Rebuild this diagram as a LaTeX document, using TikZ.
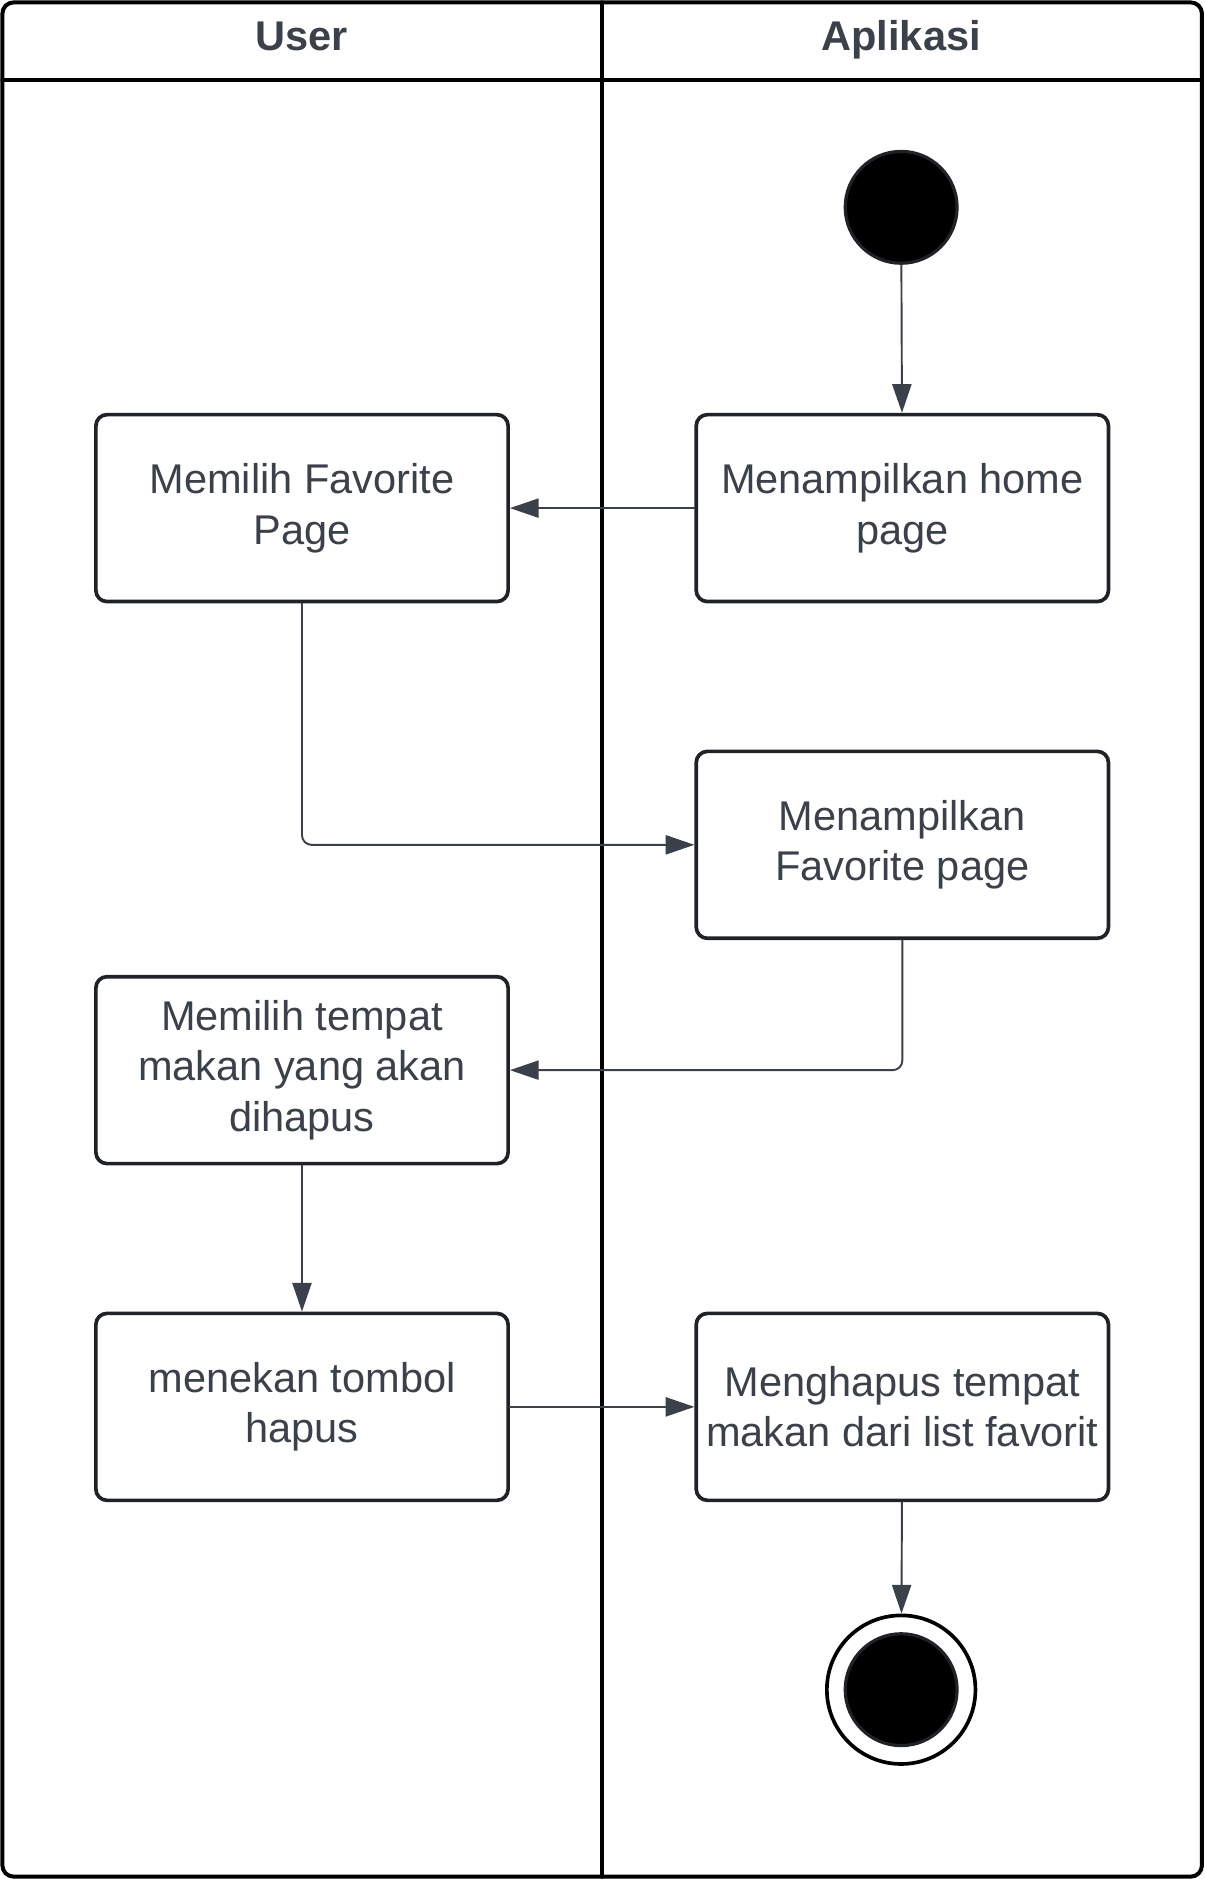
\documentclass[tikz,border=0pt]{standalone}
\usepackage{fontspec}
\setmainfont{Liberation Sans}
\usepackage{tikz}
\usetikzlibrary{arrows.meta}
\usetikzlibrary{positioning}
\definecolor{inkgray}{HTML}{3A414A}
\definecolor{boxline}{HTML}{1F2328}

\begin{document}
\begin{tikzpicture}[line cap=round,line join=round,x=0.75pt,y=-0.75pt,
  >={Triangle[length=18pt,width=12pt]},
  lane/.style={line width=2.5pt,color=black},
  lanetitle/.style={anchor=base,font=\fontsize{26}{31.5}\selectfont\bfseries,text=inkgray},
  action/.style={draw=boxline,line width=2.3pt,rounded corners=7pt,fill=white,
    minimum width=258pt,minimum height=117pt,align=center,text=inkgray,
    font=\fontsize{26}{31.5}\selectfont},
  startdot/.style={circle,draw=boxline,line width=2pt,fill=black,minimum size=70pt,inner sep=0pt},
  endring/.style={circle,draw=black,line width=2.3pt,fill=white,minimum size=93pt,inner sep=0pt},
  flow/.style={->,draw=inkgray,line width=1.2pt}]
\useasboundingbox (0,0) rectangle (1005,1568);
% swimlanes
\draw[lane,rounded corners=7pt] (2,2) rectangle (1003,1566);
\draw[lane] (2,67) -- (1003,67);
\draw[lane] (502,2) -- (502,1566);
\node[lanetitle] (laneUser) at (252,42) {User};
\node[lanetitle] (laneApp) at (752,42) {Aplikasi};
% actions
\node[startdot] (start) at (752,173) {};
\node[action] (home) at (753,424) {Menampilkan home\\page};
\node[action] (pilihFav) at (252,424) {Memilih Favorite\\Page};
\node[action] (favPage) at (753,705) {Menampilkan\\Favorite page};
\node[action] (pilihTempat) at (252,893) {Memilih tempat\\makan yang akan\\dihapus};
\node[action] (tombolHapus) at (252,1174) {menekan tombol\\hapus};
\node[action] (hapusFav) at (753,1174) {Menghapus tempat\\makan dari list favorit};
\node[endring] (stop) at (752,1410) {};
\node[startdot] (stopDot) at (stop) {};
% flows
\draw[flow] (start) -- (home);
\draw[flow] (home) -- (pilihFav);
\draw[flow,rounded corners=6pt] (pilihFav) |- (favPage);
\draw[flow,rounded corners=6pt] (favPage) |- (pilihTempat);
\draw[flow] (pilihTempat) -- (tombolHapus);
\draw[flow] (tombolHapus) -- (hapusFav);
\draw[flow] (hapusFav) -- (stop);
\end{tikzpicture}
\end{document}
